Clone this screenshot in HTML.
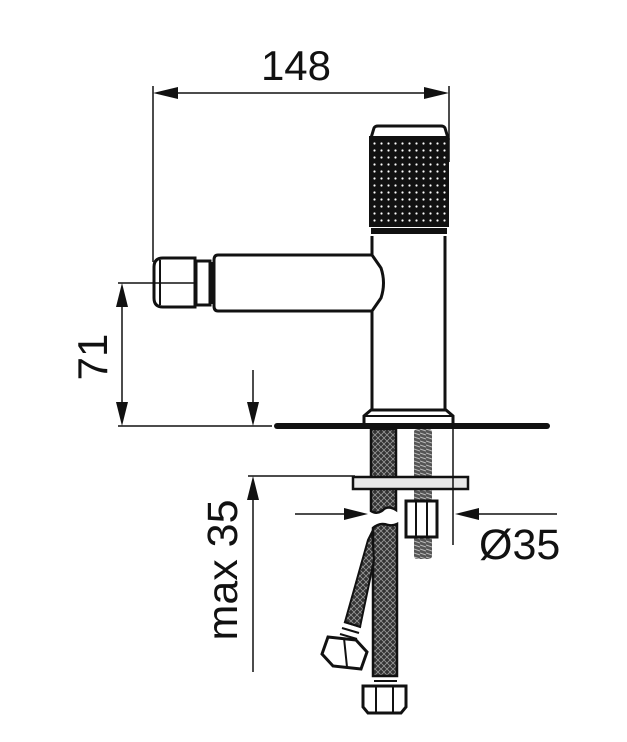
<!DOCTYPE html>
<html><head><meta charset="utf-8"><style>
html,body{margin:0;padding:0;background:#fff}
svg{display:block}
text{font-family:"Liberation Sans",sans-serif;fill:#111}
</style></head><body>
<svg width="627" height="742" viewBox="0 0 627 742" xmlns="http://www.w3.org/2000/svg">
<defs>
<pattern id="dots" width="7" height="7" patternUnits="userSpaceOnUse">
<rect width="7" height="7" fill="#111"/><circle cx="3.5" cy="3.5" r="1.1" fill="#fff"/>
</pattern>
<pattern id="braid" width="6" height="6" patternUnits="userSpaceOnUse">
<rect width="6" height="6" fill="#333"/><path d="M0 0L3 3L6 0M0 6L3 3L6 6" stroke="#999" stroke-width="0.8" fill="none"/>
</pattern>
<pattern id="thread" width="6" height="4" patternUnits="userSpaceOnUse">
<rect width="6" height="4" fill="#555"/><path d="M0 1L6 3" stroke="#bbb" stroke-width="1"/>
</pattern>
</defs>
<g stroke="#111" fill="none">
<line x1="153" y1="86" x2="153" y2="262" stroke-width="1.5"/>
<line x1="449" y1="86" x2="449" y2="162" stroke-width="1.5"/>
<line x1="160" y1="93" x2="442" y2="93" stroke-width="1.5"/>
<polygon points="153,93 178,87 178,99" fill="#111" stroke="none"/>
<polygon points="449,93 424,87 424,99" fill="#111" stroke="none"/>
<path d="M371,138 L374,128 Q375,126 378,126 L441,126 Q444,126 445,128 L448,138 Z" stroke-width="3" fill="#fff"/>
<rect x="370" y="137" width="78" height="89" fill="url(#dots)" stroke-width="2"/>
<rect x="371" y="228" width="76" height="6" fill="#111" stroke="none"/>
<path d="M372,236 L372,410 M445,236 L445,410" stroke-width="3"/>
<path d="M364,426 L364,416 L371,410 L446,410 L453,416 L453,426" stroke-width="3" fill="#fff"/>
<line x1="364" y1="416" x2="453" y2="416" stroke-width="2"/>
<path d="M218,255 L372,255 L381,268 Q386,283 381,298 L372,311 L218,311 Q214,311 214,306 L214,260 Q214,255 218,255 Z" stroke-width="3" fill="#fff"/>
<path d="M163,258 L195,258 L195,307 L163,307 Q154,307 154,298 L154,267 Q154,258 163,258 Z" stroke-width="3" fill="#fff"/>
<line x1="160" y1="260" x2="160" y2="305" stroke-width="2"/>
<rect x="196" y="261" width="14" height="44" stroke-width="3" fill="#fff"/>
<rect x="209" y="262" width="5" height="42" fill="#111" stroke="none"/>
<line x1="118" y1="283" x2="197" y2="283" stroke-width="1.5"/>
<line x1="118" y1="426" x2="272" y2="426" stroke-width="1.5"/>
<line x1="122" y1="290" x2="122" y2="420" stroke-width="1.5"/>
<polygon points="122,283 116,307 128,307" fill="#111" stroke="none"/>
<polygon points="122,426 116,402 128,402" fill="#111" stroke="none"/>
<line x1="277" y1="426" x2="547" y2="426" stroke-width="6" stroke-linecap="round"/>
<line x1="253" y1="370" x2="253" y2="420" stroke-width="1.5"/>
<polygon points="253,426 247,402 259,402" fill="#111" stroke="none"/>
<line x1="248" y1="476" x2="355" y2="476" stroke-width="1.5"/>
<line x1="253" y1="482" x2="253" y2="672" stroke-width="1.5"/>
<polygon points="253,476 247,500 259,500" fill="#111" stroke="none"/>
<rect x="414" y="429" width="18" height="130" fill="url(#thread)" stroke="none" rx="3"/>
<path d="M371,429 L396,429 L396,510 Q388,505 383,510 Q377,515 371,511 Z" fill="url(#braid)" stroke-width="2.5"/>
<rect x="353" y="477" width="115" height="12" fill="#e8e8e8" stroke-width="2.5"/>
<rect x="406" y="501" width="31" height="36" fill="#fff" stroke-width="3"/>
<line x1="416" y1="501" x2="416" y2="537" stroke-width="2"/>
<line x1="427" y1="501" x2="427" y2="537" stroke-width="2"/>
<line x1="453" y1="420" x2="453" y2="545" stroke-width="1.5"/>
<line x1="295" y1="514" x2="360" y2="514" stroke-width="1.5"/>
<polygon points="368,514 344,508 344,520" fill="#111" stroke="none"/>
<line x1="470" y1="514" x2="557" y2="514" stroke-width="1.5"/>
<polygon points="455,514 479,508 479,520" fill="#111" stroke="none"/>
<path d="M373,528 Q380,522 388,525 Q393,526 397,524 L397,676 L373,676 Z" fill="url(#braid)" stroke-width="2.5"/>
<path d="M372,532 L368,540 L345,622 L360,627 L374,560 Z" fill="url(#braid)" stroke-width="2"/>
<g stroke-width="2"><line x1="344" y1="622" x2="361" y2="627"/><line x1="342" y1="628" x2="359" y2="633"/><line x1="340" y1="634" x2="357" y2="639"/></g>
<path d="M328,637 L356,640 L367,652 L361,669 L333,666 L322,654 Z" fill="#fff" stroke-width="3"/>
<line x1="344" y1="638" x2="347" y2="667" stroke-width="2"/>
<g stroke-width="2"><line x1="374" y1="676" x2="397" y2="676"/><line x1="374" y1="681" x2="397" y2="681"/></g>
<path d="M363,686 L406,686 L406,707 L401,713 L368,713 L363,707 Z" fill="#fff" stroke-width="3"/>
<line x1="376" y1="686" x2="376" y2="713" stroke-width="2"/>
<line x1="393" y1="686" x2="393" y2="713" stroke-width="2"/>
</g>
<text x="296" y="80" font-size="42" text-anchor="middle">148</text>
<text x="479" y="559" font-size="43">Ø35</text>
<text transform="translate(107,357) rotate(-90)" font-size="42" text-anchor="middle">71</text>
<text transform="translate(237,570) rotate(-90)" font-size="43" text-anchor="middle">max 35</text>
</svg>
</body></html>
